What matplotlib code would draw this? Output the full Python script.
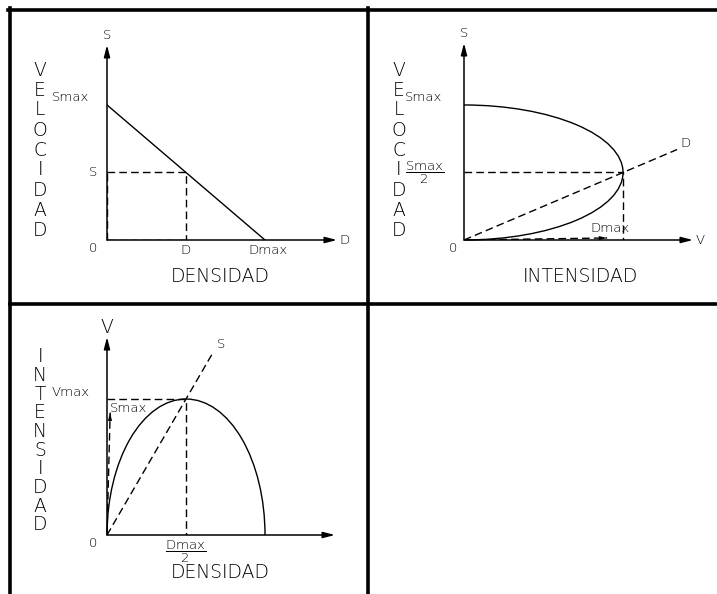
import matplotlib
matplotlib.use("Agg")
import matplotlib.pyplot as plt
from matplotlib.patches import Arc
from matplotlib.lines import Line2D

plt.rcParams["font.family"] = ["DejaVu Sans"]
plt.rcParams["font.weight"] = "light"
plt.rcParams["mathtext.fontset"] = "custom"
plt.rcParams["mathtext.rm"] = "DejaVu Sans:light"

# ---- Greenshields model parameters ----
S_MAX = 80.0        # free-flow speed
D_MAX = 120.0       # jam density
V_MAX = 2400.0      # maximum flow (S_MAX * D_MAX / 4)
D_POINT = 60.0      # sample density on the speed-density line
S_POINT = 40.0      # corresponding speed

# axis titles, written letter by letter down the side
VEL_LETTERS = list("VELOCIDAD")
INT_LETTERS = list("INTENSIDAD")

W, H = 717, 594
fig = plt.figure(figsize=(W / 100, H / 100), dpi=100)
fig.patch.set_facecolor("white")

BIG = 13.5
SMALL = 9.5
DASH = dict(color="black", lw=1.0, ls=(0, (5.5, 3)))
SOLID = dict(color="black", lw=1.0)


def px_axes(ox, oy, tx, ty):
    """Axes whose lower-left corner is the origin (ox, oy) and whose
    upper-right corner is at the arrow tips (tx, ty), in pixels."""
    ax = fig.add_axes([ox / W, 1 - oy / H, (tx - ox) / W, (oy - ty) / H])
    ax.set_axis_off()
    return ax


def axis_arrows(ax, xmax, ymax):
    style = "-|>,head_length=0.7,head_width=0.18"
    for end in [(xmax, 0), (0, ymax)]:
        ax.annotate("", xy=end, xytext=(0, 0), annotation_clip=False,
                    arrowprops=dict(arrowstyle=style, mutation_scale=10,
                                    color="black", lw=1.1,
                                    shrinkA=0, shrinkB=0))


def label(ax, s, xy, off, size=SMALL, ha="center", va="center"):
    ax.annotate(s, xy=xy, xytext=off, textcoords="offset points",
                ha=ha, va=va, fontsize=size, annotation_clip=False)


def small_arrow(ax, start, end):
    ax.plot([start[0], end[0]], [start[1], end[1]], **DASH)
    ax.annotate("", xy=end, xytext=start, annotation_clip=False,
                arrowprops=dict(arrowstyle="-|>,head_length=0.6,head_width=0.15",
                                mutation_scale=10, color="black", lw=0,
                                shrinkA=0, shrinkB=0))


def side_letters(letters, x, y0, y1):
    n = len(letters)
    for i, ch in enumerate(letters):
        y = y0 + (y1 - y0) * i / (n - 1)
        fig.text(x / W, 1 - y / H, ch, ha="center", va="center", fontsize=BIG)


# ---------------- Panel 1: speed vs density ----------------
x1max = D_MAX * 1.456
y1max = S_MAX * 1.444
ax1 = px_axes(107, 240, 337, 45)
ax1.set_xlim(0, x1max)
ax1.set_ylim(0, y1max)
axis_arrows(ax1, x1max, y1max)
ax1.plot([0, D_MAX], [S_MAX, 0], **SOLID)
ax1.plot([0, D_POINT, D_POINT], [S_POINT, S_POINT, 0], **DASH)
ax1.plot([0, D_POINT], [0, 0], **DASH)
ax1.plot([0, 0], [0, S_POINT], **DASH)
label(ax1, "S", (0, y1max), (0, 7))
label(ax1, "Smax", (0, S_MAX), (-26, 6))
label(ax1, "S", (0, S_POINT), (-10, 0))
label(ax1, "0", (0, 0), (-10, -6))
label(ax1, "D", (D_POINT, 0), (0, -7))
label(ax1, "Dmax", (D_MAX, 0), (2, -7))
label(ax1, "D", (x1max, 0), (2, 0), ha="left")
fig.text(220 / W, 1 - 277 / H, "DENSIDAD", ha="center", va="center", fontsize=BIG)
side_letters(VEL_LETTERS, 40, 70, 230)

# ---------------- Panel 2: speed vs flow ----------------
x2max = V_MAX * 1.44
y2max = S_MAX * 1.459
ax2 = px_axes(464, 240, 693, 43)
ax2.set_xlim(0, x2max)
ax2.set_ylim(0, y2max)
axis_arrows(ax2, x2max, y2max)
ax2.add_patch(Arc((0, S_MAX / 2), 2 * V_MAX, S_MAX, theta1=-90, theta2=90,
                  clip_on=False, **SOLID))
ray2 = 1.34
ax2.plot([0, ray2 * V_MAX], [0, ray2 * S_MAX / 2], **DASH)
ax2.plot([0, V_MAX, V_MAX], [S_MAX / 2, S_MAX / 2, 0], **DASH)
small_arrow(ax2, (0, 0), (0.9 * V_MAX, 0.015 * S_MAX))
label(ax2, "S", (0, y2max), (0, 7))
label(ax2, "Smax", (0, S_MAX), (-29, 6))
label(ax2, r"$\dfrac{\mathrm{Smax}}{2}$", (0, S_MAX / 2), (-28, 0))
label(ax2, "0", (0, 0), (-8, -6))
label(ax2, "D", (ray2 * V_MAX, ray2 * S_MAX / 2), (2, 5), ha="left")
label(ax2, "Dmax", (0.9 * V_MAX, 0.015 * S_MAX), (2, 7))
label(ax2, "V", (x2max, 0), (2, 0), ha="left")
fig.text(580 / W, 1 - 277 / H, "INTENSIDAD", ha="center", va="center", fontsize=BIG)
side_letters(VEL_LETTERS, 399, 70, 230)

# ---------------- Panel 3: flow vs density ----------------
x3max = D_MAX * 1.443
y3max = V_MAX * 1.456
ax3 = px_axes(107, 535, 335, 337)
ax3.set_xlim(0, x3max)
ax3.set_ylim(0, y3max)
axis_arrows(ax3, x3max, y3max)
ax3.add_patch(Arc((D_MAX / 2, 0), D_MAX, 2 * V_MAX, theta1=0, theta2=180,
                  clip_on=False, **SOLID))
ray3 = 0.67
ax3.plot([0, ray3 * D_MAX], [0, ray3 * D_MAX * S_MAX / 2], **DASH)
ax3.plot([0, D_MAX / 2, D_MAX / 2], [V_MAX, V_MAX, 0], **DASH)
small_arrow(ax3, (0, 0), (0.02 * D_MAX, 0.9 * V_MAX))
label(ax3, "V", (0, y3max), (0, 7), size=BIG)
label(ax3, "Vmax", (0, V_MAX), (-26, 5))
label(ax3, "Smax", (0.02 * D_MAX, 0.9 * V_MAX), (0, 3), ha="left")
label(ax3, "S", (ray3 * D_MAX, ray3 * D_MAX * S_MAX / 2), (3, 6), ha="left")
label(ax3, "0", (0, 0), (-10, -6))
label(ax3, r"$\dfrac{\mathrm{Dmax}}{2}$", (D_MAX / 2, 0), (0, -12))
fig.text(220 / W, 1 - 573 / H, "DENSIDAD", ha="center", va="center", fontsize=BIG)
side_letters(INT_LETTERS, 40, 357, 525)

# ---------------- frame lines between panels ----------------
frame = [((10, 10), (8, H)), ((8, W), (9.5, 9.5)),
         ((368, 368), (8, H)), ((10, W), (304, 304))]
for xs, ys in frame:
    fig.add_artist(Line2D([x / W for x in xs], [1 - y / H for y in ys],
                          color="black", lw=2.6, transform=fig.transFigure))

fig.savefig("out.png", dpi=100, facecolor="white")
